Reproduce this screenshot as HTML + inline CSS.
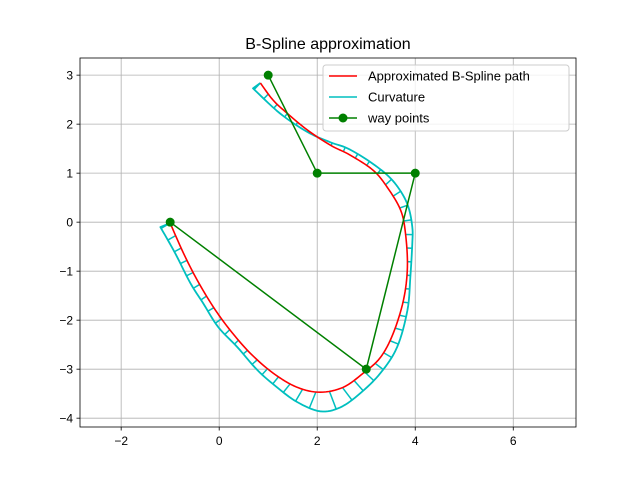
<!DOCTYPE html>
<html><head><meta charset="utf-8"><style>
body{margin:0;background:#fff}
text{font-family:"Liberation Sans","DejaVu Sans",sans-serif}
</style></head><body>
<svg id="c" width="640" height="480" xmlns="http://www.w3.org/2000/svg"></svg>
<script>
const xTicks=[-2,0,2,4,6];
const yTicks=[-4,-3,-2,-1,0,1,2,3];
const wayX=[-1,3,4,2,1];
const wayY=[0,-3,1,1,3];
const pathX=[-1.0,-0.73,-0.45,-0.12,0.22,0.63,1.10,1.59,2.06,2.53,2.94,3.29,3.55,3.76,3.84,3.80,3.70,3.43,3.14,2.67,2.27,1.80,1.39,1.10,0.84];
const pathY=[-0.02,-0.63,-1.18,-1.73,-2.20,-2.67,-3.08,-3.37,-3.47,-3.37,-3.08,-2.76,-2.27,-1.59,-0.92,-0.22,0.25,0.71,1.06,1.37,1.57,1.88,2.22,2.49,2.84];
const curvX=[-1.20,-0.90,-0.59,-0.33,-0.02,0.37,0.78,1.18,1.59,2.06,2.47,2.88,3.29,3.63,3.84,3.90,3.94,3.94,3.86,3.69,3.43,3.02,2.61,2.27,1.80,1.24,0.69];
const curvY=[-0.10,-0.63,-1.24,-1.65,-2.14,-2.55,-3.02,-3.37,-3.67,-3.86,-3.78,-3.49,-3.08,-2.55,-1.80,-1.12,-0.43,-0.10,0.31,0.65,0.96,1.27,1.51,1.63,1.84,2.22,2.73];
const L=80,R=576,T=58,B=427,x0=-2.84,x1=7.28,y0=-4.18,y1=3.35;
const sx=v=>L+(v-x0)/(x1-x0)*(R-L);
const sy=v=>B-(v-y0)/(y1-y0)*(B-T);
const svg=document.getElementById('c');
const NS='http://www.w3.org/2000/svg';
function mk(t,a,parent){const e=document.createElementNS(NS,t);for(const k in a)e.setAttribute(k,a[k]);(parent||svg).appendChild(e);return e;}
function smooth(P,n){const out=[];for(let i=0;i<P.length-1;i++){const p0=P[Math.max(0,i-1)],p1=P[i],p2=P[i+1],p3=P[Math.min(P.length-1,i+2)];for(let k=0;k<n;k++){const t=k/n,t2=t*t,t3=t2*t;out.push([0,1].map(j=>0.5*(2*p1[j]+(-p0[j]+p2[j])*t+(2*p0[j]-5*p1[j]+4*p2[j]-p3[j])*t2+(-p0[j]+3*p1[j]-3*p2[j]+p3[j])*t3)));}}out.push(P[P.length-1]);return out;}
const bg=mk('rect',{x:L,y:T,width:R-L,height:B-T,fill:'#fff'});


xTicks.forEach(v=>{const X=sx(v);
 const g=mk('line',{x1:X,x2:X,y1:T,y2:B,stroke:'#b0b0b0','stroke-width':0.8});
 
 
 mk('line',{x1:X,x2:X,y1:B,y2:B+3.5,stroke:'#000','stroke-width':0.8});
 const t=mk('text',{x:X,y:B+18,'font-size':12,'text-anchor':'middle'});t.textContent=v<0?'\u2212'+(-v):v;
 
 });
yTicks.forEach(v=>{const Y=sy(v);
 const g=mk('line',{x1:L,x2:R,y1:Y,y2:Y,stroke:'#b0b0b0','stroke-width':0.8});
 
 
 mk('line',{x1:L-3.5,x2:L,y1:Y,y2:Y,stroke:'#000','stroke-width':0.8});
 const t=mk('text',{x:L-7,y:Y+4.5,'font-size':12,'text-anchor':'end'});t.textContent=v<0?'\u2212'+(-v):v;
 
 });
const pp=smooth(pathX.map((v,i)=>[sx(v),sy(pathY[i])]),8);
const cpRaw=[[sx(pathX[0]),sy(pathY[0])]].concat(curvX.map((v,i)=>[sx(v),sy(curvY[i])]));
const cp=smooth(curvX.map((v,i)=>[sx(v),sy(curvY[i])]),8);
function nearest(px,py){let best=null,bd=1e9;for(let i=0;i<cp.length-1;i++){const ax=cp[i][0],ay=cp[i][1],bx=cp[i+1][0],by=cp[i+1][1];const dx=bx-ax,dy=by-ay;let t=((px-ax)*dx+(py-ay)*dy)/(dx*dx+dy*dy||1);t=Math.max(0,Math.min(1,t));const qx=ax+t*dx,qy=ay+t*dy,d=(qx-px)**2+(qy-py)**2;if(d<bd){bd=d;best=[qx,qy];}}return best;}
let seg=[],tot=0;for(let i=0;i<pp.length-1;i++){const d=Math.hypot(pp[i+1][0]-pp[i][0],pp[i+1][1]-pp[i][1]);seg.push(d);tot+=d;}
const N=48;
for(let k=0;k<=N;k++){let s=tot*k/N,i=0;while(i<seg.length-1&&s>seg[i]){s-=seg[i];i++;}const f=seg[i]?Math.min(1,s/seg[i]):0;const px=pp[i][0]+f*(pp[i+1][0]-pp[i][0]),py=pp[i][1]+f*(pp[i+1][1]-pp[i][1]);const q=nearest(px,py);
 const tk=mk('line',{x1:px,y1:py,x2:q[0],y2:q[1],stroke:'#00bfbf','stroke-width':1.5});
 
 }
const cvPts=[pp[0]].concat(cp).concat([pp[pp.length-1]]);
const cv=mk('polyline',{points:cvPts.map(p=>p.join(',')).join(' '),fill:'none',stroke:'#00bfbf','stroke-width':1.8,'stroke-linejoin':'round'});


const pl=mk('polyline',{points:pp.map(p=>p.join(',')).join(' '),fill:'none',stroke:'#ff0000','stroke-width':1.6,'stroke-linejoin':'round'});


const wl=mk('polyline',{points:wayX.map((v,i)=>sx(v)+','+sy(wayY[i])).join(' '),fill:'none',stroke:'#008000','stroke-width':1.5});


wayX.forEach((v,i)=>{const c=mk('circle',{cx:sx(v),cy:sy(wayY[i]),r:4.5,fill:'#008000'});
 
 });
const fr=mk('rect',{x:L,y:T,width:R-L,height:B-T,fill:'none',stroke:'#000','stroke-width':0.8});


const ti=mk('text',{x:328,y:49,'font-size':16,'text-anchor':'middle'});ti.textContent='B-Spline approximation';


const lg=mk('g',{});


mk('rect',{x:323,y:65,width:246,height:66,rx:3,fill:'#fff','fill-opacity':0.8,stroke:'#ccc'},lg);
const items=[['Approximated B-Spline path','#ff0000',false],['Curvature','#00bfbf',false],['way points','#008000',true]];
items.forEach((it,i)=>{const y=76+i*21;
 const e=mk('g',{},lg);
 
 
 mk('line',{x1:329,x2:357,y1:y,y2:y,stroke:it[1],'stroke-width':1.5},e);
 if(it[2])mk('circle',{cx:343,cy:y,r:4.5,fill:it[1]},e);
 const t=mk('text',{x:368,y:y+4.5,'font-size':13},e);t.textContent=it[0];});
</script>
</body></html>
